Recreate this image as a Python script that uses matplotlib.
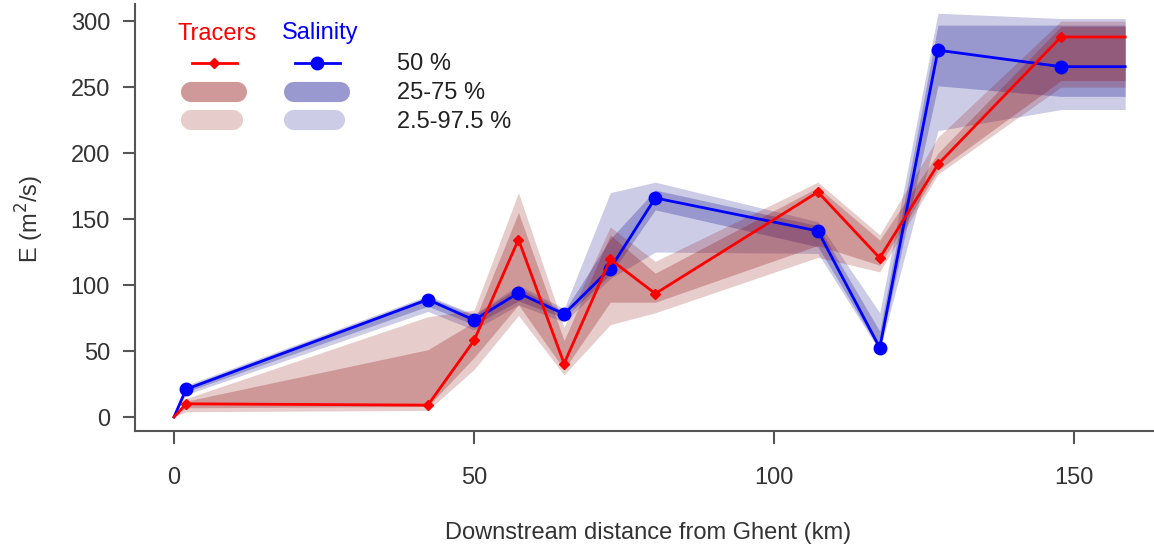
import matplotlib
matplotlib.use("Agg")
import matplotlib.pyplot as plt
from matplotlib.lines import Line2D

plt.rcParams['font.family'] = ['Liberation Sans', 'DejaVu Sans']

# distance from Ghent (km)
dist = [0, 2, 42.3, 50, 57.4, 65, 72.7, 80.2, 107.3, 117.6, 127.3, 147.8, 158.5]

# tracers: median, 25-75 %, 2.5-97.5 %
tr_med = [0, 10, 9, 58, 134.5, 40.5, 119.5, 93.5, 170.5, 120.5, 191.5, 288, 288]
tr_q25 = [0, 7, 8, 45, 85, 36, 87, 87, 130, 115, 187, 255, 255]
tr_q75 = [0, 12, 51, 72, 155, 58, 138, 109, 174, 134, 200, 296, 296]
tr_lo = [0, 4, 5, 36, 77, 32, 70, 79, 121, 110, 184, 250, 250]
tr_hi = [0, 14, 76, 81, 170, 68, 144, 118, 178, 138, 212, 300, 300]

# salinity: median, 25-75 %, 2.5-97.5 %
sal_med = [0, 21, 89, 73.5, 94, 78, 112.5, 166, 141, 52.5, 278, 265.5, 265.5]
sal_q25 = [0, 19, 84, 70, 88, 75, 108, 157, 129, 51, 251, 243, 243]
sal_q75 = [0, 23, 91, 77, 98, 80, 135, 172, 145, 65, 297, 297, 297]
sal_lo = [0, 17, 80, 66, 85, 72, 105, 125, 124, 50, 217, 233, 233]
sal_hi = [0, 24, 92, 78, 100, 82, 170, 178, 148, 79, 306, 302, 302]

W, H = 1154, 550
FS = 17
fig = plt.figure(figsize=(W / 100, H / 100), dpi=100)
ax = fig.add_axes([135 / W, 1 - 431 / H, 1 - 135 / W, (431 - 4) / H])

# salinity first, then tracer bands lie over it
ax.fill_between(dist, sal_lo, sal_hi, color='darkblue', alpha=0.2, lw=0)
ax.fill_between(dist, sal_q25, sal_q75, color='darkblue', alpha=0.25, lw=0)
ax.plot(dist, sal_med, color='blue', lw=2)
ax.plot(dist[1:-1], sal_med[1:-1], 'o', color='blue', ms=9)

ax.fill_between(dist, tr_lo, tr_hi, color='darkred', alpha=0.2, lw=0)
ax.fill_between(dist, tr_q25, tr_q75, color='darkred', alpha=0.25, lw=0)
ax.plot(dist, tr_med, color='red', lw=2)
ax.plot(dist[1:-1], tr_med[1:-1], 'D', color='red', ms=5.5)

ax.set_xlim(-6.5, 163.3)
ax.set_ylim(-10.6, 313)
ax.set_xticks([0, 50, 100, 150])
ax.set_yticks([0, 50, 100, 150, 200, 250, 300])
for s in ['top', 'right']:
    ax.spines[s].set_visible(False)
for s in ['left', 'bottom']:
    ax.spines[s].set_color('#555555')
    ax.spines[s].set_linewidth(1.5)
ax.tick_params(axis='both', colors='#555555', labelcolor='#333333', labelsize=FS,
               length=9, width=1.5)
ax.tick_params(axis='x', pad=17)
ax.tick_params(axis='y', pad=9)

fig.text(30 / W, 1 - 219 / H, r'E (m$^2$/s)', rotation=90, ha='center', va='center',
         fontsize=FS, color='#333333')
fig.text(648 / W, 1 - 533 / H, 'Downstream distance from Ghent (km)', ha='center',
         va='center', fontsize=FS, color='#333333')

# legend built by hand in figure pixels
def fx(px):
    return px / W

def fy(py):
    return 1 - py / H

fig.text(fx(217), fy(34), 'Tracers', color='red', fontsize=FS, ha='center', va='center')
fig.text(fx(320), fy(33), 'Salinity', color='blue', fontsize=FS, ha='center', va='center')

tf = fig.transFigure
fig.lines.append(Line2D([fx(192), fx(237)], [fy(63), fy(63)], color='red', lw=2, transform=tf))
fig.lines.append(Line2D([fx(214)], [fy(63)], marker='D', color='red', ms=5.5, transform=tf))
fig.lines.append(Line2D([fx(295), fx(340)], [fy(63), fy(63)], color='blue', lw=2, transform=tf))
fig.lines.append(Line2D([fx(317)], [fy(63)], marker='o', color='blue', ms=9, transform=tf))

for x0, x1, y, c, a in [(191, 237, 92, 'darkred', 0.4), (191, 233, 120, 'darkred', 0.2),
                        (294, 340, 92, 'darkblue', 0.4), (294, 335, 120, 'darkblue', 0.2)]:
    fig.lines.append(Line2D([fx(x0), fx(x1)], [fy(y), fy(y)], color=c, alpha=a, lw=14.5,
                            solid_capstyle='round', transform=tf))

for y, t in [(64, '50 %'), (93, '25-75 %'), (122, '2.5-97.5 %')]:
    fig.text(fx(397), fy(y), t, fontsize=FS, color='#222222', ha='left', va='center')

fig.savefig('out.png', dpi=100)
